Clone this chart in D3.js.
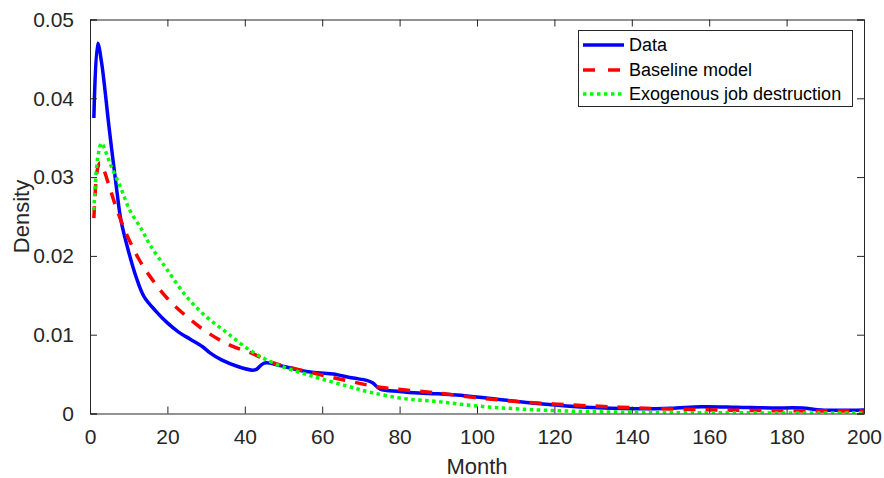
<!DOCTYPE html>
<html>
<head>
<meta charset="utf-8">
<script src="https://cdn.jsdelivr.net/npm/d3@7"></script>
<style>
  html, body { margin: 0; padding: 0; background: #fff; }
  svg { display: block; font-family: "Liberation Sans", Arial, Helvetica, sans-serif; }
</style>
</head>
<body>
<svg id="chart" width="884" height="478"></svg>
<script>
// ---- data ----
const dataMonths = [1,2,3,5,7,8,10,12,14,17,20,23,26,29,31,34,38,42,43,45,49,54,58,63,65,68,71.5,73,75,80,85,90,98,102,107,117,128,141,150,158,167,176,184,189,200];
const dataValues = [0.0375,0.047,0.0445,0.036,0.028,0.0245,0.0205,0.0172,0.0148,0.0130,0.0115,0.0103,0.0094,0.0085,0.0077,0.0068,0.0060,0.0055,0.0056,0.0064,0.0061,0.0055,0.0052,0.0050,0.0048,0.0045,0.0042,0.0039,0.0031,0.0028,0.0026,0.0025,0.0022,0.0020,0.0017,0.0012,0.0008,0.0006,0.00066,0.00086,0.0008,0.0007,0.0007,0.00045,0.00045];

const baseMonths = [1,2,2.6,3.5,5,7,9.5,12.5,15.5,20,25,30,36,42,47,58,68,74,81,90,100,111,124,137,150,163,176,189,200];
const baseValues = [0.0248,0.0312,0.0318,0.031,0.0288,0.0258,0.0227,0.0197,0.0174,0.0146,0.0123,0.0104,0.0087,0.0076,0.0065,0.0051,0.0040,0.0034,0.0030,0.0026,0.0020,0.0015,0.0011,0.0008,0.00057,0.00044,0.00036,0.00032,0.0003];

const exoMonths = [1,2,3,4,5.2,7.8,10.3,13.4,15.5,20,25,30,35,40.5,47.4,57.7,66.3,72.4,81,90,100,111,124,141,158,200];
const exoValues = [0.0258,0.0325,0.0343,0.0333,0.0317,0.0288,0.0258,0.0233,0.0214,0.0182,0.0148,0.0123,0.0104,0.0083,0.0064,0.0047,0.0035,0.0027,0.0019,0.0015,0.00095,0.00057,0.0003,0.00015,0.0001,0.00005];

const xTicks = [0,20,40,60,80,100,120,140,160,180,200];
const yTicks = [0,0.01,0.02,0.03,0.04,0.05];
const yTickLabels = ["0","0.01","0.02","0.03","0.04","0.05"];
const seriesNames = ["Data","Baseline model","Exogenous job destruction"];

// ---- layout ----
const svg = d3.select("#chart");
const L = 90, R = 864, T = 19.5, B = 413.5;
const x = d3.scaleLinear().domain([0,200]).range([L,R]);
const y = d3.scaleLinear().domain([0,0.05]).range([B,T]);
const axisColor = "#262626";
const tickLen = 7;

svg.append("defs").append("clipPath").attr("id","clip")
  .append("rect").attr("x",L).attr("y",T).attr("width",R-L).attr("height",B-T);

const series = [
  {name: seriesNames[0], months: dataMonths, values: dataValues, color:"#0000ff", dash:null, width:3.5},
  {name: seriesNames[1], months: baseMonths, values: baseValues, color:"#ff0000", dash:"12,10", width:3.5},
  {name: seriesNames[2], months: exoMonths, values: exoValues, color:"#00ff00", dash:"3.5,3.5", width:3.5}
];

const line = d3.line().x(d=>x(d[0])).y(d=>y(d[1])).curve(d3.curveCatmullRom.alpha(0.5));
const plot = svg.append("g").attr("clip-path","url(#clip)");
series.forEach(s=>{
  plot.append("path")
    .datum(s.months.map((m,i)=>[m,s.values[i]]))
    .attr("fill","none")
    .attr("stroke",s.color)
    .attr("stroke-width",s.width)
    .attr("stroke-dasharray",s.dash)
    .attr("stroke-linecap","butt")
    .attr("stroke-linejoin","round")
    .attr("d",line);
});

// axes (MATLAB style box with inward ticks)
const fontTick = 21;
const xAxisB = d3.axisBottom(x).tickValues(xTicks).tickSize(-tickLen).tickPadding(tickLen+9).tickFormat(d3.format("d"));
const xAxisT = d3.axisTop(x).tickValues(xTicks).tickSize(-tickLen).tickFormat("");
const yAxisL = d3.axisLeft(y).tickValues(yTicks).tickSize(-tickLen).tickPadding(tickLen+9).tickFormat((d,i)=>yTickLabels[i]);
const yAxisR = d3.axisRight(y).tickValues(yTicks).tickSize(-tickLen).tickFormat("");

function styleAxis(g){
  g.select(".domain").attr("stroke",axisColor).attr("stroke-width",1);
  g.selectAll(".tick line").attr("stroke",axisColor).attr("stroke-width",1);
  g.selectAll(".tick text").attr("fill",axisColor).style("font-size",fontTick+"px")
   .style("font-family",'"Liberation Sans", Arial, sans-serif');
}
svg.append("g").attr("transform",`translate(0,${B})`).call(xAxisB).call(styleAxis);
svg.append("g").attr("transform",`translate(0,${T})`).call(xAxisT).call(styleAxis);
svg.append("g").attr("transform",`translate(${L},0)`).call(yAxisL).call(styleAxis);
svg.append("g").attr("transform",`translate(${R},0)`).call(yAxisR).call(styleAxis);

// axis labels
svg.append("text").attr("x",(L+R)/2).attr("y",474).attr("text-anchor","middle")
  .attr("fill",axisColor).style("font-size","22px").text("Month");
svg.append("text").attr("transform",`translate(29,${(T+B)/2}) rotate(-90)`).attr("text-anchor","middle")
  .attr("fill",axisColor).style("font-size","22px").text("Density");

// legend
const lg = svg.append("g");
lg.append("rect").attr("x",578.5).attr("y",30.5).attr("width",274).attr("height",76)
  .attr("fill","#fff").attr("stroke",axisColor).attr("stroke-width",1);
const rowsY = [45,70,94];
series.forEach((s,i)=>{
  lg.append("line").attr("x1",583).attr("x2",624).attr("y1",rowsY[i]).attr("y2",rowsY[i])
    .attr("stroke",s.color).attr("stroke-width",s.width)
    .attr("stroke-dasharray", i===1 ? "12,13" : s.dash);
  lg.append("text").attr("x",629).attr("y",rowsY[i]).attr("dy","0.35em")
    .attr("fill","#000").style("font-size","18px").text(s.name);
});
</script>
</body>
</html>
